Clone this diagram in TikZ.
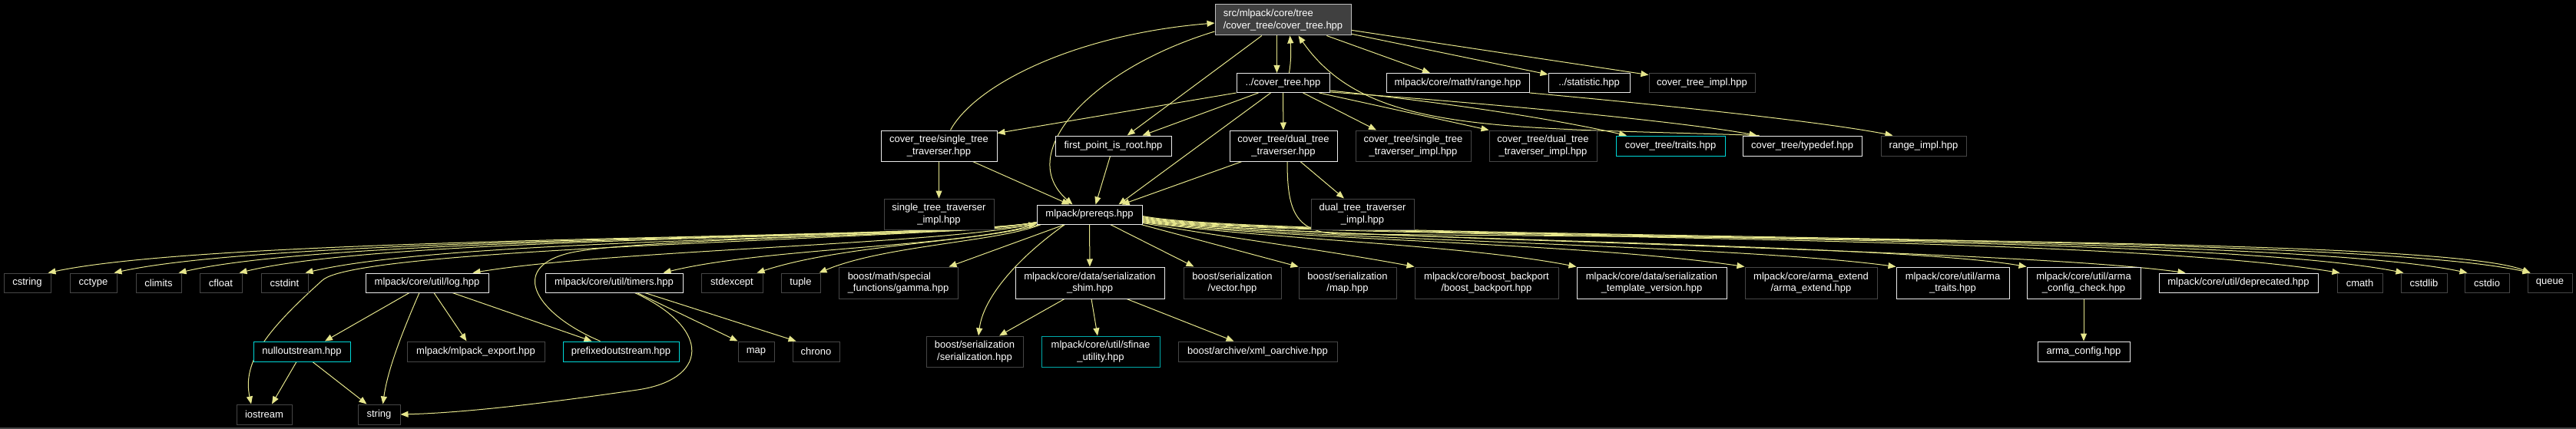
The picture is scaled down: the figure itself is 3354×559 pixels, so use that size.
\documentclass[tikz,border=0pt]{standalone}
\usepackage{fontspec}
\setmainfont{Liberation Sans}
\usetikzlibrary{arrows.meta}
\pgfdeclarelayer{backlayer}
\pgfdeclarelayer{edgelayer}
\pgfsetlayers{backlayer,edgelayer,main}
\definecolor{edgecol}{RGB}{230,230,140}
\definecolor{darkb}{RGB}{70,70,70}
\definecolor{rootfill}{RGB}{64,64,64}
\definecolor{rootline}{RGB}{190,190,190}
\definecolor{whiteb}{RGB}{235,235,235}
\definecolor{cyanb}{RGB}{0,215,215}
\definecolor{tealb}{RGB}{0,170,170}
\tikzset{
  box/.style={draw, line width=1pt, fill=black, text=white, inner sep=0pt,
    font=\fontsize{13}{15.5}\selectfont, align=center},
  wbox/.style={box, draw=whiteb},
  dbox/.style={box, draw=darkb},
  cbox/.style={box, draw=cyanb},
  tbox/.style={box, draw=tealb},
  rootbox/.style={box, fill=rootfill, draw=rootline, align=left},
  conn/.style={draw=edgecol, line width=1pt, -{Triangle[length=10pt,width=8pt]}},
}
\begin{document}
\begin{tikzpicture}[x=1pt,y=1pt]
\useasboundingbox (0,0) rectangle (3354,-559);
\begin{pgfonlayer}{backlayer}
\fill[black] (0,0) rectangle (3354,-559);
\draw[darkb, line width=1.5pt] (0,-558) -- (3354,-558);
\end{pgfonlayer}

% row 0-1
\node[rootbox, minimum width=177pt, minimum height=40pt] (root) at (1670.5,-26) {src/mlpack/core/tree\\/cover\_tree/cover\_tree.hpp};
\node[wbox, minimum width=121pt, minimum height=25pt] (ct) at (1670.5,-108) {../cover\_tree.hpp};
\node[wbox, minimum width=186pt, minimum height=25pt] (range) at (1898,-108) {mlpack/core/math/range.hpp};
\node[wbox, minimum width=106pt, minimum height=25pt] (stat) at (2069,-108) {../statistic.hpp};
\node[dbox, minimum width=138pt, minimum height=25pt] (ctimpl) at (2216,-108) {cover\_tree\_impl.hpp};
% row 2
\node[wbox, minimum width=151pt, minimum height=40pt] (stt) at (1222.5,-190) {cover\_tree/single\_tree\\\_traverser.hpp};
\node[wbox, minimum width=151pt, minimum height=26pt] (fpr) at (1449.5,-190) {first\_point\_is\_root.hpp};
\node[wbox, minimum width=140pt, minimum height=40pt] (dtt) at (1671,-190) {cover\_tree/dual\_tree\\\_traverser.hpp};
\node[dbox, minimum width=150pt, minimum height=40pt] (stti) at (1840,-190) {cover\_tree/single\_tree\\\_traverser\_impl.hpp};
\node[dbox, minimum width=140pt, minimum height=40pt] (dtti) at (2009,-190) {cover\_tree/dual\_tree\\\_traverser\_impl.hpp};
\node[cbox, minimum width=142pt, minimum height=26pt] (traits) at (2175,-190) {cover\_tree/traits.hpp};
\node[wbox, minimum width=155pt, minimum height=26pt] (typedef) at (2346.5,-190) {cover\_tree/typedef.hpp};
\node[dbox, minimum width=111pt, minimum height=26pt] (rangeimpl) at (2504.5,-190) {range\_impl.hpp};
% row 3
\node[dbox, minimum width=143pt, minimum height=40pt] (stimpl) at (1222.5,-279) {single\_tree\_traverser\\\_impl.hpp};
\node[wbox, minimum width=137pt, minimum height=25pt] (prereqs) at (1418.5,-279.5) {mlpack/prereqs.hpp};
\node[dbox, minimum width=134pt, minimum height=40pt] (dtimpl) at (1774,-279) {dual\_tree\_traverser\\\_impl.hpp};
% row 4
\node[dbox, minimum width=61pt, minimum height=25pt] (cstring) at (35.5,-368.5) {cstring};
\node[dbox, minimum width=61pt, minimum height=25pt] (cctype) at (121.5,-368.5) {cctype};
\node[dbox, minimum width=59pt, minimum height=25pt] (climits) at (206.5,-368.5) {climits};
\node[dbox, minimum width=55pt, minimum height=25pt] (cfloat) at (287.5,-368.5) {cfloat};
\node[dbox, minimum width=61pt, minimum height=25pt] (cstdint) at (370.5,-368.5) {cstdint};
\node[wbox, minimum width=160pt, minimum height=25pt] (log) at (556,-368.5) {mlpack/core/util/log.hpp};
\node[wbox, minimum width=179pt, minimum height=25pt] (timers) at (799.5,-368.5) {mlpack/core/util/timers.hpp};
\node[dbox, minimum width=80pt, minimum height=25pt] (stdexcept) at (953,-368.5) {stdexcept};
\node[dbox, minimum width=51pt, minimum height=25pt] (tuple) at (1042.5,-368.5) {tuple};
\node[dbox, minimum width=155pt, minimum height=41pt, align=left] (gamma) at (1169.5,-368.5) {boost/math/special\\\_functions/gamma.hpp};
\node[wbox, minimum width=194pt, minimum height=41pt] (shim) at (1419,-368.5) {mlpack/core/data/serialization\\\_shim.hpp};
\node[dbox, minimum width=127pt, minimum height=41pt] (vector) at (1604.5,-368.5) {boost/serialization\\/vector.hpp};
\node[dbox, minimum width=127pt, minimum height=41pt] (bsmap) at (1754.5,-368.5) {boost/serialization\\/map.hpp};
\node[dbox, minimum width=187pt, minimum height=41pt] (backport) at (1935.5,-368.5) {mlpack/core/boost\_backport\\/boost\_backport.hpp};
\node[wbox, minimum width=195pt, minimum height=41pt] (tmplver) at (2150.5,-368.5) {mlpack/core/data/serialization\\\_template\_version.hpp};
\node[dbox, minimum width=172pt, minimum height=41pt] (armaext) at (2358,-368.5) {mlpack/core/arma\_extend\\/arma\_extend.hpp};
\node[wbox, minimum width=147pt, minimum height=41pt] (armatraits) at (2542.5,-368.5) {mlpack/core/util/arma\\\_traits.hpp};
\node[wbox, minimum width=148pt, minimum height=41pt] (armacfgchk) at (2713,-368.5) {mlpack/core/util/arma\\\_config\_check.hpp};
\node[wbox, minimum width=207pt, minimum height=25pt] (deprecated) at (2914.5,-368.5) {mlpack/core/util/deprecated.hpp};
\node[dbox, minimum width=59pt, minimum height=25pt] (cmath) at (3072.5,-368.5) {cmath};
\node[dbox, minimum width=60pt, minimum height=25pt] (cstdlib) at (3156,-368.5) {cstdlib};
\node[dbox, minimum width=58pt, minimum height=25pt] (cstdio) at (3238,-368.5) {cstdio};
\node[dbox, minimum width=58pt, minimum height=25pt] (queue) at (3320,-368.5) {queue};
% row 5
\node[cbox, minimum width=126pt, minimum height=26pt] (nullout) at (393,-458) {nulloutstream.hpp};
\node[dbox, minimum width=179pt, minimum height=26pt] (mlexport) at (619.5,-458) {mlpack/mlpack\_export.hpp};
\node[cbox, minimum width=151pt, minimum height=26pt] (prefixed) at (808.5,-458) {prefixedoutstream.hpp};
\node[dbox, minimum width=47pt, minimum height=26pt] (map) at (984.5,-458) {map};
\node[dbox, minimum width=61pt, minimum height=26pt] (chrono) at (1062.5,-458) {chrono};
\node[dbox, minimum width=126pt, minimum height=40pt] (bsser) at (1269,-458) {boost/serialization\\/serialization.hpp};
\node[tbox, minimum width=154pt, minimum height=40pt] (sfinae) at (1433,-458) {mlpack/core/util/sfinae\\\_utility.hpp};
\node[dbox, minimum width=207pt, minimum height=26pt] (xmlo) at (1637.5,-458) {boost/archive/xml\_oarchive.hpp};
\node[wbox, minimum width=120pt, minimum height=26pt] (armacfg) at (2713,-458) {arma\_config.hpp};
% row 6
\node[dbox, minimum width=72pt, minimum height=26pt] (iostream) at (344,-540) {iostream};
\node[dbox, minimum width=55pt, minimum height=26pt] (string) at (493.5,-540) {string};

\begin{pgfonlayer}{edgelayer}
% ---- edges from root / ../cover_tree.hpp
\draw[conn] ([xshift=-8pt]root.south) -- ([xshift=-8pt]ct.north);
\draw[conn] ([xshift=8pt]ct.north) .. controls (1681,-80) and (1681,-65) .. ([xshift=9pt]root.south);
\draw[conn] (root) -- (fpr);
\draw[conn] ([yshift=-15pt]root.west) .. controls (1420,-90) and (1320,-200) .. ([xshift=-22pt]prereqs.north);
\draw[conn] ([xshift=15pt]stt.north) .. controls (1270,-110) and (1400,-45) .. ([yshift=-4pt]root.west);
\draw[conn] (root) -- (range);
\draw[conn] (root) -- (stat);
\draw[conn] (root) -- (ctimpl);
\draw[conn] (ct.south west) -- ([yshift=-4pt]stt.north east);
\draw[conn] ([xshift=-32pt]ct.south) -- ([xshift=38pt]fpr.north);
\draw[conn] ([xshift=-16pt]ct.south) -- ([xshift=38pt]prereqs.north);
\draw[conn] (ct) -- (dtt);
\draw[conn] ([xshift=26pt]ct.south) -- ([xshift=-48pt]stti.north);
\draw[conn] ([xshift=47pt]ct.south) -- (dtti.north west);
\draw[conn] ([yshift=3pt]ct.south east) .. controls (1850,-130) and (2000,-150) .. ([xshift=-57pt]traits.north);
\draw[conn] ([yshift=1pt]ct.south east) .. controls (1950,-135) and (2200,-160) .. ([xshift=-59pt]typedef.north);
\draw[conn] ([xshift=-56pt]typedef.north) .. controls (1950,-165) and (1780,-175) .. ([xshift=20pt]root.south);
\draw[conn] (range.south east) .. controls (2200,-140) and (2380,-160) .. ([xshift=-40pt]rangeimpl.north);
% ---- row 2 sources
\draw[conn] (stt) -- (stimpl);
\draw[conn] ([xshift=44pt]stt.south) -- ([xshift=-26pt]prereqs.north);
\draw[conn] ([xshift=-4pt]fpr.south) -- ([xshift=8pt]prereqs.north);
\draw[conn] ([xshift=-54pt]dtt.south) -- ([xshift=42pt]prereqs.north);
\draw[conn] ([xshift=22pt]dtt.south) -- ([xshift=-24pt]dtimpl.north);
\draw[conn] ([xshift=5pt]dtt.south) .. controls (1676,-275) and (1686,-303) .. (1745,-305)
   .. controls (2600,-312) and (3200,-318) .. ([xshift=4pt]queue.north west);
% ---- prereqs to the left
\draw[conn] ([yshift=3pt]prereqs.south west) .. controls (1250,-312) and (300,-305) .. ([xshift=-4pt]cstring.north east);
\draw[conn] ([yshift=3pt]prereqs.south west) .. controls (1250,-312) and (380,-305) .. ([xshift=-4pt]cctype.north east);
\draw[conn] ([yshift=3pt]prereqs.south west) .. controls (1250,-312) and (450,-305) .. ([xshift=-4pt]climits.north east);
\draw[conn] ([yshift=3pt]prereqs.south west) .. controls (1250,-312) and (520,-305) .. ([xshift=-4pt]cfloat.north east);
\draw[conn] ([yshift=3pt]prereqs.south west) .. controls (1250,-312) and (600,-308) .. ([xshift=-4pt]cstdint.north east);
\draw[conn] ([yshift=3pt]prereqs.south west) .. controls (1250,-312) and (470,-320) .. (420,-365)
   .. controls (350,-428) and (315,-470) .. ([xshift=-17pt]iostream.north);
\draw[conn] ([yshift=2pt]prereqs.south west) .. controls (1250,-318) and (800,-325) .. ([xshift=-21pt]log.north east);
\draw[conn] ([yshift=1pt]prereqs.south west) .. controls (1260,-322) and (1000,-322) .. ([xshift=-26pt]timers.north east);
\draw[conn] ([xshift=4pt]prereqs.south west) .. controls (1280,-315) and (1100,-318) .. ([xshift=-8pt]stdexcept.north east);
\draw[conn] ([xshift=6pt]prereqs.south west) .. controls (1300,-315) and (1150,-320) .. ([xshift=-2pt]tuple.north east);
\draw[conn] ([xshift=-32pt]prereqs.south) -- ([xshift=66pt]gamma.north);
\draw[conn] ([xshift=-32pt]prereqs.south) .. controls (1320,-340) and (1280,-390) .. ([xshift=5pt]bsser.north);
\draw[conn] (prereqs) -- (shim);
\draw[conn] ([xshift=27pt]prereqs.south) -- ([xshift=-50pt]vector.north);
% ---- prereqs to the right
\draw[conn] ([xshift=-2pt]prereqs.south east) -- (bsmap.north west);
\draw[conn] ([yshift=2pt]prereqs.south east) .. controls (1600,-310) and (1720,-325) .. (backport.north west);
\draw[conn] ([yshift=3pt]prereqs.south east) .. controls (1650,-312) and (1900,-318) .. (tmplver.north west);
\draw[conn] ([yshift=4pt]prereqs.south east) .. controls (1650,-312) and (2050,-315) .. (armaext.north west);
\draw[conn] ([yshift=5pt]prereqs.south east) .. controls (1650,-312) and (2250,-318) .. (armatraits.north west);
\draw[conn] ([yshift=6pt]prereqs.south east) .. controls (1650,-312) and (2450,-315) .. (armacfgchk.north west);
\draw[conn] ([yshift=7pt]prereqs.south east) .. controls (1650,-312) and (2600,-322) .. ([xshift=35pt]deprecated.north west);
\draw[conn] ([yshift=8pt]prereqs.south east) .. controls (1650,-314) and (2700,-300) .. ([xshift=4pt]cmath.north west);
\draw[conn] ([yshift=9pt]prereqs.south east) .. controls (1650,-314) and (2850,-300) .. ([xshift=4pt]cstdlib.north west);
\draw[conn] ([yshift=10pt]prereqs.south east) .. controls (1650,-314) and (2950,-300) .. ([xshift=4pt]cstdio.north west);
\draw[conn] ([yshift=11pt]prereqs.south east) .. controls (1650,-314) and (3050,-300) .. ([xshift=4pt]queue.north west);
% ---- lower level
\draw[conn] ([xshift=-27pt]prefixed.north) .. controls (700,-410) and (660,-350) .. (740,-330)
   .. controls (820,-310) and (1280,-305) .. ([yshift=1pt]prereqs.south west);
\draw[conn] ([xshift=-23pt]log.south) -- ([xshift=30pt]nullout.north);
\draw[conn] ([xshift=-10pt]log.south) .. controls (525,-430) and (505,-480) .. ([xshift=5pt]string.north);
\draw[conn] ([xshift=9pt]log.south) -- ([xshift=-12pt]mlexport.north);
\draw[conn] ([xshift=33pt]log.south) -- ([xshift=-38pt]prefixed.north);
\draw[conn] ([xshift=-7pt]nullout.south) -- ([xshift=10pt]iostream.north);
\draw[conn] ([xshift=14pt]nullout.south) -- ([xshift=-16pt]string.north);
\draw[conn] ([xshift=30pt]timers.south) -- (map.north west);
\draw[conn] ([xshift=40pt]timers.south) -- ([xshift=-26pt]chrono.north);
\draw[conn] ([xshift=27pt]timers.south) .. controls (930,-430) and (920,-495) .. (830,-508)
   .. controls (700,-527) and (600,-538) .. (string.east);
\draw[conn] ([xshift=-33pt]shim.south) -- ([xshift=32pt]bsser.north);
\draw[conn] ([xshift=2pt]shim.south) -- ([xshift=-4pt]sfinae.north);
\draw[conn] ([xshift=48pt]shim.south) -- ([xshift=-31pt]xmlo.north);
\draw[conn] (armacfgchk) -- (armacfg);
\end{pgfonlayer}
\end{tikzpicture}
\end{document}
